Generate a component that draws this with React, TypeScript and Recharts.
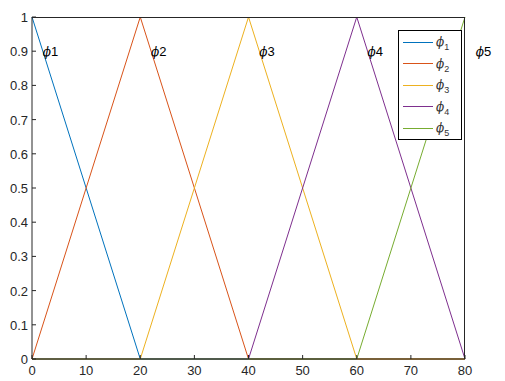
import React from "react";
import {
  LineChart,
  Line,
  XAxis,
  YAxis,
  ReferenceDot,
} from "recharts";

const xValues = [0, 20, 40, 60, 80];
const phi1 = [1, 0, 0, 0, 0];
const phi2 = [0, 1, 0, 0, 0];
const phi3 = [0, 0, 1, 0, 0];
const phi4 = [0, 0, 0, 1, 0];
const phi5 = [0, 0, 0, 0, 1];
const seriesKeys = ["phi1", "phi2", "phi3", "phi4", "phi5"];
const seriesColors = ["#0072BD", "#D95319", "#EDB120", "#7E2F8E", "#77AC30"];
const labelX = [2, 22, 42, 62, 82];
const labelY = 0.9;
const labelTexts = ["1", "2", "3", "4", "5"];
const xTicks = [0, 10, 20, 30, 40, 50, 60, 70, 80];
const yTicks = [0, 0.1, 0.2, 0.3, 0.4, 0.5, 0.6, 0.7, 0.8, 0.9, 1];

const data = xValues.map((x, i) => ({
  x,
  phi1: phi1[i],
  phi2: phi2[i],
  phi3: phi3[i],
  phi4: phi4[i],
  phi5: phi5[i],
}));

const FONT = "Arial, 'Liberation Sans', sans-serif";
const TICK = 4;

// inward tick marks, MATLAB style
function BottomTick({ x, y, payload }: any) {
  return (
    <g>
      <line x1={x} y1={y} x2={x} y2={y - TICK} stroke="#262626" />
      <text x={x} y={y + 16} textAnchor="middle" fontFamily={FONT} fontSize={13} fill="#262626">
        {payload.value}
      </text>
    </g>
  );
}

function LeftTick({ x, y, payload }: any) {
  return (
    <g>
      <line x1={x} y1={y} x2={x + TICK} y2={y} stroke="#262626" />
      <text x={x - 4} y={y + 5} textAnchor="end" fontFamily={FONT} fontSize={13} fill="#262626">
        {payload.value}
      </text>
    </g>
  );
}

function PhiLabel(props: any) {
  const { viewBox, text } = props;
  return (
    <text x={viewBox.x} y={viewBox.y + 5} fontFamily={FONT} fontSize={13} fill="#000">
      <tspan fontFamily="'DejaVu Serif', serif" fontStyle="italic" fontSize={12}>ϕ</tspan>
      <tspan>{text}</tspan>
    </text>
  );
}

function PhiLegend() {
  return (
    <div
      style={{
        position: "absolute",
        left: 398,
        top: 30,
        width: 64,
        height: 110,
        border: "1px solid #000",
        background: "#fff",
        fontFamily: FONT,
        boxSizing: "border-box",
      }}
    >
      {seriesKeys.map((k, i) => (
        <div
          key={k}
          style={{
            position: "absolute",
            left: 4,
            top: 4 + i * 21.5,
            height: 14,
            display: "flex",
            alignItems: "center",
          }}
        >
          <div style={{ width: 30, height: 1, background: seriesColors[i] }} />
          <span
            style={{
              marginLeft: 3,
              fontSize: 12,
              fontStyle: "italic",
              fontFamily: "'DejaVu Serif', serif",
              color: "#333",
            }}
          >
            ϕ
          </span>
          <span style={{ fontSize: 9, position: "relative", top: 5, color: "#333" }}>{i + 1}</span>
        </div>
      ))}
    </div>
  );
}

export default function App() {
  return (
    <div
      style={{
        position: "absolute",
        left: 0,
        top: 0,
        width: 505,
        height: 381,
        background: "#fff",
      }}
    >
      <LineChart
        width={505}
        height={381}
        data={data}
        margin={{ top: 17, right: 40, bottom: 0, left: 0 }}
      >
        <XAxis
          dataKey="x"
          type="number"
          domain={[0, 80]}
          ticks={xTicks}
          height={22}
          stroke="#262626"
          tickSize={0}
          tickMargin={0}
          tickLine={false}
          tick={<BottomTick />}
        />
        <YAxis
          type="number"
          domain={[0, 1]}
          ticks={yTicks}
          width={32}
          stroke="#262626"
          tickSize={0}
          tickMargin={0}
          tickLine={false}
          tick={<LeftTick />}
        />
        {seriesKeys.map((k, i) => (
          <Line
            key={k}
            dataKey={k}
            type="linear"
            stroke={seriesColors[i]}
            strokeWidth={1}
            dot={false}
            isAnimationActive={false}
          />
        ))}
        {labelX.map((lx, i) => (
          <ReferenceDot
            key={i}
            x={lx}
            y={labelY}
            r={0}
            ifOverflow="visible"
            fill="none"
            stroke="none"
            label={<PhiLabel text={labelTexts[i]} />}
          />
        ))}
      </LineChart>
      {/* top and right edges of the axes box */}
      <div
        style={{
          position: "absolute",
          left: 32,
          top: 17,
          width: 433,
          height: 342,
          borderTop: "1px solid #262626",
          borderRight: "1px solid #262626",
          boxSizing: "border-box",
          pointerEvents: "none",
        }}
      />
      <PhiLegend />
    </div>
  );
}
